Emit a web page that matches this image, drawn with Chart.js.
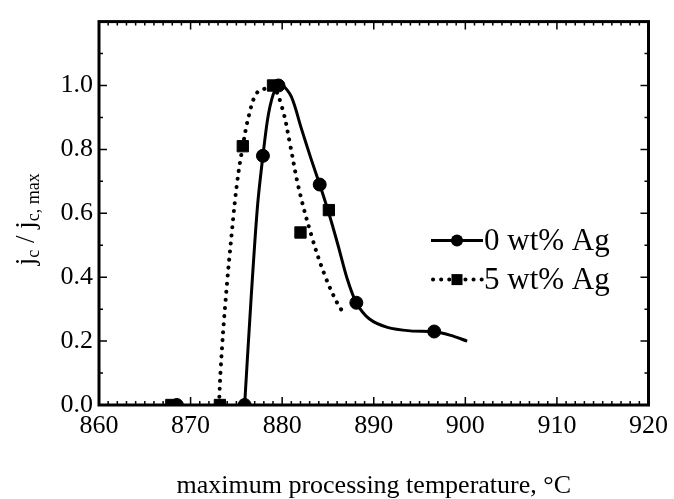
<!DOCTYPE html>
<html>
<head>
<meta charset="utf-8">
<title>jc / jc,max vs maximum processing temperature</title>
<script src="https://cdn.jsdelivr.net/npm/chart.js"></script>
<style>
  html,body{margin:0;padding:0;background:#fff}
  #wrap{width:674px;height:499px}
</style>
</head>
<body>
<div id="wrap"><canvas id="chart" width="674" height="499"></canvas></div>
<script>
// measured points
const temp0 = [868.5, 875.9, 877.9, 879.6, 884.1, 888.1, 896.6];
const jc0   = [0, 0, 0.78, 1.0, 0.69, 0.32, 0.23];
const temp5 = [867.9, 873.2, 875.7, 879.0, 882.0, 885.1];
const jc5   = [0, 0, 0.81, 1.0, 0.54, 0.61];

// guide curves drawn through the data
const fitT0 = [875.9, 876.6, 877.3, 877.9, 878.5, 879.2, 880.0, 881.0, 882.1, 883.1, 884.1, 885.1, 886.1, 887.1, 888.1, 889.5, 891.5, 894.0, 896.6, 898.4, 900.2];
const fitJ0 = [0, 0.33, 0.62, 0.78, 0.91, 0.985, 1.0, 0.965, 0.865, 0.775, 0.69, 0.60, 0.50, 0.395, 0.32, 0.27, 0.243, 0.232, 0.229, 0.218, 0.2];
const fitT5 = [873.1, 873.3, 873.8, 874.5, 875.1, 875.7, 876.4, 877.2, 878.1, 879.0, 880.0, 880.9, 881.8, 883.2, 884.6, 886.0, 886.9];
const fitJ5 = [0, 0.12, 0.32, 0.54, 0.70, 0.81, 0.91, 0.975, 0.99, 0.995, 0.93, 0.81, 0.68, 0.53, 0.41, 0.32, 0.28];

const xTicks = [860, 870, 880, 890, 900, 910, 920];
const yTickLabels = ['0.0', '0.2', '0.4', '0.6', '0.8', '1.0'];
const seriesNames = ['0 wt% Ag', '5 wt% Ag'];

const SERIF = '"Liberation Serif", "DejaVu Serif", serif';
const pts = (xs, ys) => xs.map((x, i) => ({x, y: ys[i]}));

// frame + inward ticks on all four sides
const frame = {
  id: 'frame',
  afterDraw(chart) {
    const {ctx, chartArea: a, scales: {x, y}} = chart;
    ctx.save();
    ctx.strokeStyle = '#000';
    ctx.lineWidth = 1.5;
    for (let v = 860; v <= 920; v += 1) {
      const px = x.getPixelForValue(v);
      const len = v % 10 === 0 ? 8 : 4;
      ctx.beginPath();
      ctx.moveTo(px, a.bottom); ctx.lineTo(px, a.bottom - len);
      ctx.moveTo(px, a.top); ctx.lineTo(px, a.top + len);
      ctx.stroke();
    }
    for (let i = 0; i <= 12; i++) {
      const py = y.getPixelForValue(i / 10);
      const len = i % 2 === 0 ? 8 : 4;
      ctx.beginPath();
      ctx.moveTo(a.left, py); ctx.lineTo(a.left + len, py);
      ctx.moveTo(a.right, py); ctx.lineTo(a.right - len, py);
      ctx.stroke();
    }
    ctx.lineWidth = 3;
    ctx.strokeRect(a.left, a.top, a.right - a.left, a.bottom - a.top);
    ctx.restore();
  }
};

// y title with subscripts: j_c / j_c, max
const yTitle = {
  id: 'yTitle',
  afterDraw(chart) {
    const {ctx, chartArea: a} = chart;
    const parts = [['j', 0], ['c', 1], [' / j', 0], ['c, max', 1]];
    const big = '27px ' + SERIF, small = '18px ' + SERIF;
    ctx.save();
    ctx.fillStyle = '#000';
    ctx.textBaseline = 'alphabetic';
    let w = 0;
    parts.forEach(([t, s]) => { ctx.font = s ? small : big; w += ctx.measureText(t).width; });
    ctx.translate(34, (a.top + a.bottom) / 2 + 6);
    ctx.rotate(-Math.PI / 2);
    let cx = -w / 2;
    parts.forEach(([t, s]) => {
      ctx.font = s ? small : big;
      ctx.fillText(t, cx, s ? 5 : 0);
      cx += ctx.measureText(t).width;
    });
    ctx.restore();
  }
};

// legend inside the plot, right side
const legendBox = {
  id: 'legendBox',
  afterDraw(chart) {
    const {ctx, chartArea: a} = chart;
    const rows = [a.top + 219, a.top + 258];
    const x0 = a.left + 332, x1 = a.left + 384, xm = (x0 + x1) / 2;
    ctx.save();
    ctx.strokeStyle = '#000';
    ctx.fillStyle = '#000';
    // solid
    ctx.lineWidth = 3;
    ctx.beginPath(); ctx.moveTo(x0, rows[0]); ctx.lineTo(x1, rows[0]); ctx.stroke();
    ctx.beginPath(); ctx.arc(xm, rows[0], 6, 0, Math.PI * 2); ctx.fill();
    // dotted
    ctx.lineWidth = 4; ctx.lineCap = 'round';
    ctx.setLineDash([0.1, 8]);
    ctx.beginPath(); ctx.moveTo(x0 + 2, rows[1]); ctx.lineTo(x1, rows[1]); ctx.stroke();
    ctx.setLineDash([]);
    ctx.fillRect(xm - 5.5, rows[1] - 5.5, 11, 11);
    ctx.font = '31px ' + SERIF;
    ctx.textBaseline = 'middle';
    ctx.fillText(seriesNames[0], x1 + 1, rows[0] + 1);
    ctx.fillText(seriesNames[1], x1 + 1, rows[1] + 1);
    ctx.restore();
  }
};

new Chart(document.getElementById('chart'), {
  type: 'scatter',
  data: {
    datasets: [
      {
        label: seriesNames[0] + ' fit',
        data: pts(fitT0, fitJ0),
        showLine: true, pointRadius: 0,
        borderColor: '#000', borderWidth: 3,
        tension: 0.3
      },
      {
        label: seriesNames[1] + ' fit',
        data: pts(fitT5, fitJ5),
        showLine: true, pointRadius: 0,
        borderColor: '#000', borderWidth: 4,
        borderDash: [0.1, 8], borderCapStyle: 'round',
        tension: 0.4
      },
      {
        label: seriesNames[0],
        data: pts(temp0, jc0),
        pointStyle: 'circle', pointRadius: 6.5,
        backgroundColor: '#000', borderColor: '#000'
      },
      {
        label: seriesNames[1],
        data: pts(temp5, jc5),
        pointStyle: 'rect', pointRadius: 8,
        backgroundColor: '#000', borderColor: '#000'
      }
    ]
  },
  options: {
    responsive: false,
    animation: false,
    devicePixelRatio: 1,
    layout: { padding: { top: 12, right: 21, left: 0, bottom: 0 } },
    plugins: { legend: { display: false }, tooltip: { enabled: false } },
    scales: {
      x: {
        type: 'linear', min: 860, max: 920,
        afterBuildTicks: s => { s.ticks = xTicks.map(v => ({value: v})); },
        afterFit: s => { s.height = 499 - 405; },
        ticks: { color: '#000', font: { family: SERIF, size: 26 }, padding: 6, maxRotation: 0 },
        grid: { display: false, drawTicks: false },
        border: { display: false },
        title: {
          display: true, text: 'maximum processing temperature, °C',
          color: '#000', font: { family: SERIF, size: 26, lineHeight: 1 }, padding: { top: 0, bottom: 0 }
        }
      },
      y: {
        min: 0, max: 1.2,
        afterBuildTicks: s => { s.ticks = yTickLabels.map(t => ({value: parseFloat(t)})); },
        afterFit: s => { s.width = 99; },
        ticks: {
          color: '#000', font: { family: SERIF, size: 26 }, padding: 6,
          callback: (v, i) => yTickLabels[i]
        },
        grid: { display: false, drawTicks: false },
        border: { display: false }
      }
    }
  },
  plugins: [frame, yTitle, legendBox]
});
</script>
</body>
</html>
